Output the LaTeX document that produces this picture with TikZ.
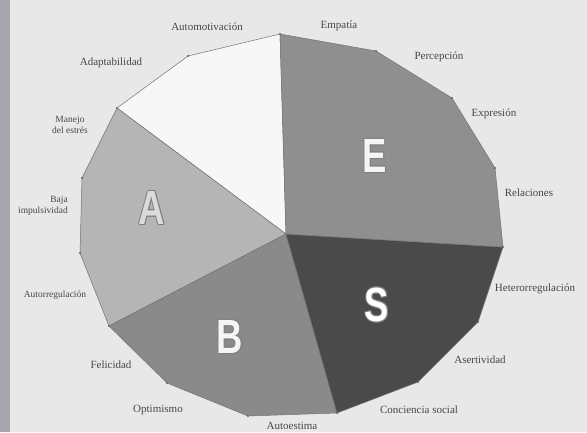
\documentclass[tikz,border=0pt]{standalone}
\usepackage{fontspec}
\setmainfont{Liberation Serif}
\newfontfamily\letterfont[FakeStretch=0.76]{Liberation Sans}
\begin{document}
\begin{tikzpicture}[x=1pt, y=-1pt,
  skill/.style={font=\fontsize{11}{11}\selectfont, text=black!72, inner sep=0pt},
  smallskill/.style={font=\fontsize{9.5}{10.5}\selectfont, text=black!72, inner sep=0pt},
  letter/.style={font=\letterfont\bfseries\fontsize{48}{48}\selectfont, inner sep=0pt},
  sector/.style={draw=black!55, line width=0.5pt, line join=round},
  vertex/.style={circle, fill=black!60, inner sep=0pt, minimum size=2.4pt}]
\fill[black!9] (0,0) rectangle (587,432);
\fill[blue!10!black!35] (0,0) rectangle (10,432);
\useasboundingbox (0,0) rectangle (587,432);

\coordinate (O) at (286,234);
\coordinate (V1) at (280,34);
\coordinate (V2) at (376,51);
\coordinate (V3) at (452,98);
\coordinate (V4) at (495,168);
\coordinate (V5) at (503,247);
\coordinate (V6) at (478,322);
\coordinate (V7) at (418,382);
\coordinate (V8) at (337,413);
\coordinate (V9) at (248,416);
\coordinate (V10) at (167,383);
\coordinate (V11) at (109,326);
\coordinate (V12) at (80,253);
\coordinate (V13) at (82,178);
\coordinate (V14) at (117,108);
\coordinate (V15) at (188,56);

\filldraw[sector, fill=black!3] (O) -- (V14) -- (V15) -- (V1) -- cycle;
\filldraw[sector, fill=black!29] (O) -- (V14) -- (V13) -- (V12) -- (V11) -- cycle;
\filldraw[sector, fill=black!46] (O) -- (V11) -- (V10) -- (V9) -- (V8) -- cycle;
\filldraw[sector, fill=black!71] (O) -- (V8) -- (V7) -- (V6) -- (V5) -- cycle;
\filldraw[sector, fill=black!44] (O) -- (V5) -- (V4) -- (V3) -- (V2) -- (V1) -- cycle;

\foreach \i in {1,...,15}
  \node[vertex] (D\i) at (V\i) {};

\foreach \ch/\px/\py/\fil in {A/152/208/black!14, E/375/156/black!4, B/230/337/black!4, S/377/305/white} {
  \foreach \dx/\dy [count=\k] in {1.1/0,-1.1/0,0/1.1,0/-1.1,.8/.8,-.8/.8,.8/-.8,-.8/-.8}
    \node[letter, text=black!50] (\ch edge\k) at (\px+\dx,\py+\dy) {\ch};
  \node[letter, text=\fil] (\ch) at (\px,\py) {\ch};
}

\node[skill] (L1) at (207,27) {Automotivación};
\node[skill] (L2) at (339,26) {Empatía};
\node[skill] (L3) at (439,57) {Percepción};
\node[skill] (L4) at (494,114) {Expresión};
\node[skill] (L5) at (529,193) {Relaciones};
\node[skill] (L6) at (535,289) {Heterorregulación};
\node[skill] (L7) at (480,360) {Asertividad};
\node[skill] (L8) at (419,410) {Conciencia social};
\node[skill] (L9) at (292,426) {Autoestima};
\node[skill] (L10) at (158,410) {Optimismo};
\node[skill] (L11) at (111,365) {Felicidad};
\node[smallskill] (L12) at (55,295) {Autorregulación};
\node[smallskill, align=right] (L13) at (43,206) {Baja\\impulsividad};
\node[smallskill, align=center] (L14) at (70,125) {Manejo\\del estrés};
\node[skill] (L15) at (111,63) {Adaptabilidad};
\end{tikzpicture}
\end{document}
